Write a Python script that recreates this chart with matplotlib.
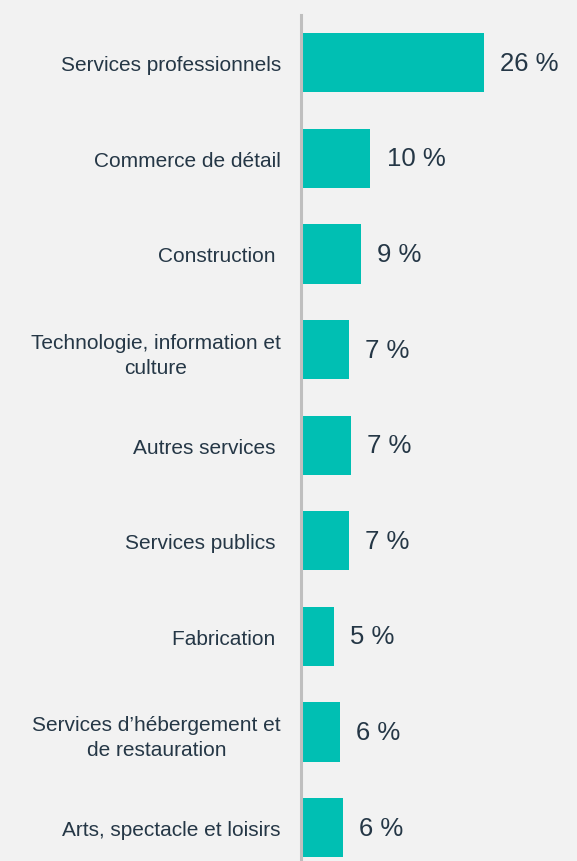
import matplotlib
matplotlib.use("Agg")
import matplotlib.pyplot as plt

categories = [
    "Services professionnels",
    "Commerce de détail",
    "Construction ",
    "Technologie, information et\nculture",
    "Autres services ",
    "Services publics ",
    "Fabrication ",
    "Services d’hébergement et\nde restauration",
    "Arts, spectacle et loisirs",
]
values = [26.0, 9.9, 8.5, 6.9, 7.1, 6.8, 4.7, 5.6, 6.0]
value_labels = ["26 %", "10 %", "9 %", "7 %", "7 %", "7 %", "5 %", "6 %", "6 %"]

bg = "#F2F2F2"
bar_color = "#00BFB3"
text_color = "#253746"

plt.rcParams["font.family"] = ["Liberation Sans", "DejaVu Sans"]

W, H = 577, 862
fig = plt.figure(figsize=(W / 100, H / 100), dpi=100, facecolor=bg)
left = 300.8 / W
top = 16 / H
ax = fig.add_axes([left, 0, 1 - left, 1 - top])
ax.set_facecolor(bg)

y = list(range(len(categories)))
ax.barh(y, values, height=0.62, color=bar_color, zorder=2)

for yi, v, lab in zip(y, values, value_labels):
    ax.text(v + 2.3, yi, lab, va="center", ha="left", fontsize=18.5, color=text_color)

ax.set_ylim(8.35, -0.5)
ax.set_xlim(0, (W - 300.8) / 7.03)

ax.set_yticks(y)
ax.set_yticklabels(categories, fontsize=15, color=text_color)
for t in ax.get_yticklabels():
    t.set_multialignment("center")
    t.set_linespacing(1.4)
ax.tick_params(axis="y", length=0, pad=14.3)
ax.set_xticks([])

for s in ["top", "right", "bottom"]:
    ax.spines[s].set_visible(False)
ax.spines["left"].set_color("#BFBFBF")
ax.spines["left"].set_linewidth(2.2)

fig.savefig("out.png", dpi=100, facecolor=bg)
